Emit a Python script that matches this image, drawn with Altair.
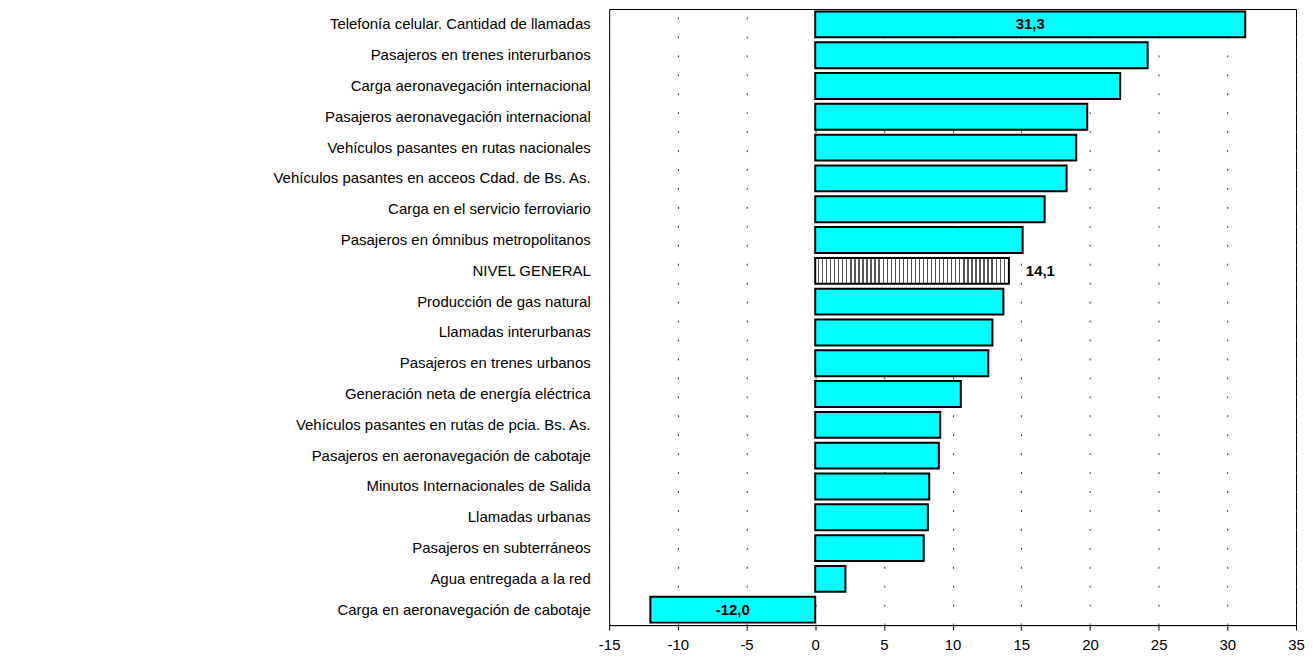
import altair as alt
import pandas as pd

categories = [
    "Telefonía celular. Cantidad de llamadas",
    "Pasajeros en trenes interurbanos",
    "Carga aeronavegación internacional",
    "Pasajeros aeronavegación internacional",
    "Vehículos pasantes en rutas nacionales",
    "Vehículos pasantes en acceos Cdad. de Bs. As.",
    "Carga en el servicio ferroviario",
    "Pasajeros en ómnibus metropolitanos",
    "NIVEL GENERAL",
    "Producción de gas natural",
    "Llamadas interurbanas",
    "Pasajeros en trenes urbanos",
    "Generación neta de energía eléctrica",
    "Vehículos pasantes en rutas de pcia. Bs. As.",
    "Pasajeros en aeronavegación de cabotaje",
    "Minutos Internacionales de Salida",
    "Llamadas urbanas",
    "Pasajeros en subterráneos",
    "Agua entregada a la red",
    "Carga en aeronavegación de cabotaje",
]
values = [31.3, 24.2, 22.2, 19.8, 19.0, 18.3, 16.7, 15.1, 14.1, 13.7,
          12.9, 12.6, 10.6, 9.1, 9.0, 8.3, 8.2, 7.9, 2.2, -12.0]
value_labels = ["31,3", "", "", "", "", "", "", "", "14,1", "",
                "", "", "", "", "", "", "", "", "", "-12,0"]
label_modes = ["inside", "", "", "", "", "", "", "", "outside", "",
               "", "", "", "", "", "", "", "", "", "inside"]
x_ticks = [-15, -10, -5, 0, 5, 10, 15, 20, 25, 30, 35]

df = pd.DataFrame({
    "cat": categories,
    "value": values,
    "label": value_labels,
    "mode": label_modes,
    "general": [c == "NIVEL GENERAL" for c in categories],
})

# vertical hatch for the NIVEL GENERAL bar
n_stripes = 48
stops = []
for i in range(n_stripes):
    a = i / n_stripes
    b = (i + 0.68) / n_stripes
    c = (i + 1) / n_stripes
    stops += [
        alt.GradientStop(offset=a, color="#ffffff"),
        alt.GradientStop(offset=b, color="#ffffff"),
        alt.GradientStop(offset=b, color="#555555"),
        alt.GradientStop(offset=c, color="#555555"),
    ]
hatch = alt.LinearGradient(gradient="linear", stops=stops, x1=0, x2=1, y1=0, y2=0)

FONT = "Liberation Sans"

y_enc = alt.Y(
    "cat:N", sort=categories, title=None,
    scale=alt.Scale(paddingInner=0.16, paddingOuter=0.08),
    axis=alt.Axis(ticks=False, tickSize=0, domain=False, labelPadding=19,
                  labelFontSize=15, labelFont=FONT, labelColor="black",
                  minExtent=603, maxExtent=603, labelLimit=600),
)
x_enc = alt.X(
    "value:Q", title=None,
    scale=alt.Scale(domain=[-15, 35], nice=False, zero=False),
    axis=alt.Axis(values=x_ticks, grid=True, gridDash=[2, 17], gridColor="#333333",
                  gridWidth=1, tickColor="black", domainColor="black", tickSize=5,
                  labelPadding=7, labelFontSize=15, labelFont=FONT, labelColor="black",
                  labelFlush=False, labelExpr="'' + datum.value"),
)

base = alt.Chart(df)

bars = base.transform_filter("!datum.general").mark_bar(
    color="#00ffff", stroke="black", strokeWidth=2
).encode(y=y_enc, x=x_enc, x2=alt.datum(0))

general_bar = base.transform_filter("datum.general").mark_bar(
    fill=hatch, stroke="black", strokeWidth=2
).encode(y=y_enc, x=x_enc, x2=alt.datum(0))

inside_text = base.transform_filter("datum.mode == 'inside'").transform_calculate(
    mid="datum.value / 2"
).mark_text(fontWeight="bold", fontSize=15, font=FONT, color="black", baseline="middle").encode(
    y=y_enc, x=alt.X("mid:Q"), text="label:N"
)

outside_text = base.transform_filter("datum.mode == 'outside'").mark_text(
    fontWeight="bold", fontSize=15, font=FONT, color="black", align="left", dx=17, baseline="middle"
).encode(y=y_enc, x=alt.X("value:Q"), text="label:N")

chart = alt.layer(bars, general_bar, inside_text, outside_text).properties(
    width=689, height=618, padding=0
).configure(font=FONT).configure_view(stroke="black", strokeWidth=1)

chart.save("out.html", embed_options={"renderer": "svg", "actions": False})
